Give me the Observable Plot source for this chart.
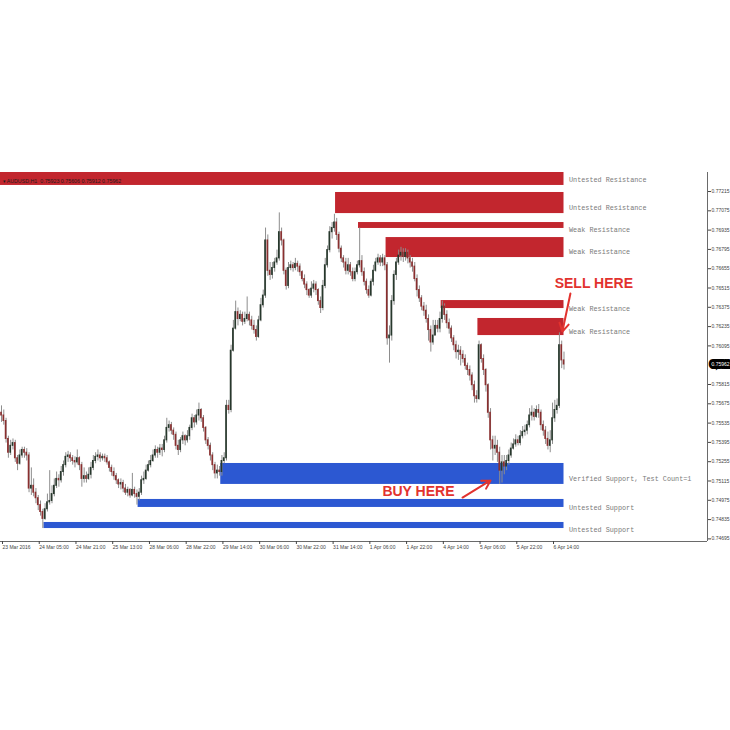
<!DOCTYPE html>
<html><head><meta charset="utf-8">
<script src="https://cdn.jsdelivr.net/npm/d3@7"></script>
<script src="https://cdn.jsdelivr.net/npm/@observablehq/plot@0.6"></script>
<style>html,body{margin:0;padding:0;background:#fff;} svg{display:block}</style>
</head><body><div id="chart"></div>
<script>
// AUDUSD H1 candles (open of each bar = close of the previous bar)
const firstOpen = 0.7561;
const closes = [
0.7559,0.7555,0.7542,0.7532,0.7537,0.7539,0.7528,0.7524,0.7530,0.7534,
0.7532,0.7530,0.7506,0.7508,0.7503,0.7499,0.7494,0.7489,0.7484,0.7491,
0.7496,0.7497,0.7502,0.7508,0.7513,0.7512,0.7518,0.7523,0.7529,0.7530,
0.7528,0.7526,0.7525,0.7528,0.7523,0.7513,0.7515,0.7513,0.7516,0.7521,
0.7526,0.7529,0.7530,0.7528,0.7529,0.7528,0.7525,0.7521,0.7518,0.7515,
0.7512,0.7509,0.7510,0.7506,0.7503,0.7505,0.7501,0.7505,0.7502,0.7500,
0.7503,0.7512,0.7513,0.7519,0.7523,0.7526,0.7530,0.7534,0.7532,0.7535,
0.7534,0.7541,0.7550,0.7552,0.7548,0.7545,0.7537,0.7534,0.7541,0.7544,
0.7541,0.7544,0.7550,0.7557,0.7554,0.7559,0.7563,0.7557,0.7550,0.7541,
0.7537,0.7530,0.7523,0.7517,0.7519,0.7518,0.7526,0.7528,0.7566,0.7563,
0.7606,0.7622,0.7634,0.7629,0.7632,0.7627,0.7629,0.7632,0.7628,0.7624,
0.7621,0.7616,0.7628,0.7639,0.7646,0.7686,0.7664,0.7661,0.7666,0.7670,
0.7673,0.7692,0.7686,0.7664,0.7653,0.7666,0.7668,0.7666,0.7669,0.7667,
0.7663,0.7658,0.7654,0.7650,0.7646,0.7651,0.7654,0.7650,0.7642,0.7637,
0.7653,0.7668,0.7679,0.7692,0.7695,0.7699,0.7690,0.7680,0.7673,0.7670,
0.7664,0.7668,0.7663,0.7658,0.7663,0.7668,0.7671,0.7663,0.7656,0.7650,
0.7646,0.7656,0.7664,0.7670,0.7673,0.7670,0.7673,0.7668,0.7615,0.7617,
0.7642,0.7661,0.7670,0.7675,0.7677,0.7674,0.7677,0.7673,0.7670,0.7667,
0.7658,0.7650,0.7644,0.7638,0.7635,0.7629,0.7621,0.7612,0.7617,0.7624,
0.7622,0.7629,0.7638,0.7632,0.7626,0.7622,0.7615,0.7610,0.7605,0.7606,
0.7603,0.7600,0.7595,0.7592,0.7588,0.7581,0.7573,0.7571,0.7610,0.7600,
0.7592,0.7581,0.7561,0.7541,0.7535,0.7537,0.7532,0.7519,0.7525,0.7522,
0.7526,0.7530,0.7535,0.7538,0.7541,0.7539,0.7544,0.7547,0.7548,0.7552,
0.7559,0.7561,0.7558,0.7563,0.7561,0.7552,0.7548,0.7542,0.7537,0.7541,
0.7557,0.7563,0.7566,0.7610,0.7599,0.7596];
const highs = [
0.7566,0.7563,0.7557,0.7544,0.7541,0.7542,0.7541,0.7530,0.7534,0.7536,
0.7536,0.7535,0.7532,0.7521,0.7513,0.7506,0.7501,0.7497,0.7491,0.7495,
0.7502,0.7519,0.7508,0.7513,0.7518,0.7516,0.7522,0.7526,0.7532,0.7533,
0.7532,0.7530,0.7529,0.7534,0.7529,0.7525,0.7521,0.7518,0.7521,0.7525,
0.7530,0.7532,0.7534,0.7532,0.7531,0.7531,0.7530,0.7526,0.7523,0.7521,
0.7517,0.7513,0.7513,0.7512,0.7509,0.7507,0.7506,0.7517,0.7507,0.7505,
0.7506,0.7515,0.7518,0.7523,0.7526,0.7530,0.7534,0.7537,0.7536,0.7538,
0.7538,0.7544,0.7557,0.7555,0.7554,0.7550,0.7547,0.7541,0.7543,0.7547,
0.7545,0.7548,0.7552,0.7560,0.7559,0.7563,0.7568,0.7564,0.7559,0.7551,
0.7543,0.7539,0.7532,0.7525,0.7523,0.7522,0.7530,0.7532,0.7570,0.7570,
0.7610,0.7628,0.7642,0.7637,0.7635,0.7634,0.7634,0.7645,0.7634,0.7631,
0.7628,0.7624,0.7631,0.7644,0.7650,0.7695,0.7690,0.7670,0.7670,0.7673,
0.7679,0.7706,0.7695,0.7687,0.7666,0.7670,0.7671,0.7670,0.7673,0.7671,
0.7669,0.7664,0.7661,0.7656,0.7651,0.7656,0.7657,0.7656,0.7651,0.7645,
0.7657,0.7673,0.7682,0.7696,0.7699,0.7705,0.7702,0.7692,0.7682,0.7675,
0.7673,0.7673,0.7670,0.7666,0.7666,0.7671,0.7695,0.7675,0.7666,0.7658,
0.7653,0.7658,0.7668,0.7673,0.7676,0.7675,0.7676,0.7675,0.7670,0.7624,
0.7646,0.7664,0.7673,0.7679,0.7681,0.7680,0.7680,0.7679,0.7675,0.7673,
0.7670,0.7661,0.7653,0.7646,0.7641,0.7639,0.7632,0.7624,0.7628,0.7628,
0.7628,0.7634,0.7642,0.7640,0.7635,0.7629,0.7624,0.7617,0.7613,0.7610,
0.7609,0.7606,0.7603,0.7597,0.7595,0.7590,0.7584,0.7577,0.7613,0.7611,
0.7603,0.7593,0.7582,0.7564,0.7544,0.7544,0.7541,0.7536,0.7530,0.7530,
0.7530,0.7534,0.7539,0.7542,0.7545,0.7544,0.7548,0.7551,0.7552,0.7555,
0.7564,0.7566,0.7564,0.7566,0.7567,0.7563,0.7555,0.7551,0.7547,0.7548,
0.7568,0.7570,0.7571,0.7619,0.7613,0.7605];
const lows = [
0.7554,0.7552,0.7539,0.7528,0.7530,0.7534,0.7525,0.7519,0.7523,0.7528,
0.7528,0.7526,0.7503,0.7501,0.7500,0.7495,0.7490,0.7486,0.7477,0.7483,
0.7489,0.7494,0.7495,0.7500,0.7506,0.7507,0.7510,0.7515,0.7521,0.7525,
0.7525,0.7523,0.7521,0.7523,0.7519,0.7507,0.7510,0.7510,0.7512,0.7513,
0.7519,0.7524,0.7526,0.7525,0.7526,0.7525,0.7523,0.7518,0.7515,0.7512,
0.7509,0.7506,0.7505,0.7503,0.7501,0.7500,0.7499,0.7500,0.7499,0.7494,
0.7497,0.7501,0.7509,0.7512,0.7518,0.7521,0.7525,0.7528,0.7528,0.7530,
0.7529,0.7532,0.7539,0.7547,0.7545,0.7541,0.7534,0.7530,0.7532,0.7538,
0.7537,0.7539,0.7541,0.7548,0.7550,0.7552,0.7555,0.7554,0.7547,0.7538,
0.7534,0.7526,0.7519,0.7513,0.7513,0.7515,0.7515,0.7524,0.7526,0.7560,
0.7561,0.7605,0.7621,0.7624,0.7627,0.7624,0.7625,0.7627,0.7624,0.7621,
0.7618,0.7613,0.7615,0.7627,0.7637,0.7644,0.7660,0.7657,0.7658,0.7663,
0.7668,0.7671,0.7682,0.7661,0.7650,0.7651,0.7664,0.7663,0.7664,0.7663,
0.7660,0.7656,0.7651,0.7646,0.7644,0.7644,0.7648,0.7646,0.7639,0.7633,
0.7635,0.7651,0.7666,0.7677,0.7687,0.7692,0.7686,0.7677,0.7670,0.7666,
0.7661,0.7661,0.7660,0.7656,0.7656,0.7661,0.7666,0.7660,0.7653,0.7647,
0.7644,0.7645,0.7653,0.7663,0.7668,0.7667,0.7667,0.7664,0.7610,0.7597,
0.7613,0.7639,0.7657,0.7668,0.7671,0.7670,0.7671,0.7669,0.7666,0.7663,
0.7656,0.7645,0.7641,0.7635,0.7631,0.7626,0.7613,0.7605,0.7610,0.7617,
0.7619,0.7619,0.7626,0.7628,0.7622,0.7618,0.7612,0.7606,0.7600,0.7599,
0.7595,0.7597,0.7592,0.7588,0.7584,0.7577,0.7568,0.7568,0.7570,0.7597,
0.7588,0.7576,0.7557,0.7534,0.7526,0.7530,0.7525,0.7509,0.7510,0.7516,
0.7519,0.7523,0.7528,0.7534,0.7536,0.7537,0.7537,0.7542,0.7544,0.7545,
0.7550,0.7555,0.7555,0.7557,0.7557,0.7548,0.7544,0.7538,0.7534,0.7532,
0.7538,0.7554,0.7560,0.7564,0.7593,0.7592];

// time axis labels (bar index of each label)
const timeLabelBars = [0,16,32,48,64,80,96,112,128,144,160,176,192,208,224,240];
const timeLabels = ["23 Mar 2016","24 Mar 05:00","24 Mar 21:00","25 Mar 13:00","28 Mar 06:00","28 Mar 22:00",
  "29 Mar 14:00","30 Mar 06:00","30 Mar 22:00","31 Mar 14:00","1 Apr 06:00","1 Apr 22:00",
  "4 Apr 14:00","5 Apr 06:00","5 Apr 22:00","6 Apr 14:00"];
// price axis labels
const priceTicks = [0.77215,0.77075,0.76935,0.76795,0.76655,0.76515,0.76375,0.76235,0.76095,
  0.75815,0.75675,0.75535,0.75395,0.75255,0.75115,0.74975,0.74835,0.74695];
const lastPrice = 0.75962;
const infoText = "\u25BE AUDUSD,H1  0.75923 0.75606 0.75912 0.75962";

// supply / demand zones
const zoneStart = [0, 146, 156, 168, 192, 208, 96, 60, 19];
const zoneLow  = [0.77259, 0.77055, 0.76947, 0.76736, 0.76366, 0.76170, 0.75090, 0.74923, 0.74770];
const zoneHigh = [0.77400, 0.77208, 0.76990, 0.76881, 0.76424, 0.76294, 0.75242, 0.74981, 0.74814];
const zoneKind = ["R","R","R","R","R","R","S","S","S"];
const zoneLabel = ["Untested Resistance","Untested Resistance","Weak Resistance","Weak Resistance",
  "Weak Resistance","Weak Resistance","Verified Support, Test Count=1","Untested Support","Untested Support"];

const N = closes.length;
const bars = closes.map((c, i) => {
  const o = i === 0 ? firstOpen : closes[i - 1];
  return {i, o, c, h: Math.max(highs[i], o, c), l: Math.min(lows[i], o, c)};
});
const zones = zoneStart.map((s, k) => ({s, lo: zoneLow[k], hi: zoneHigh[k], kind: zoneKind[k], label: zoneLabel[k]}));

const yTop = 0.77353, yBot = 0.74676;
const red = "#e2322e";
const sellNote = {x: 258, y: 0.76548, text: "SELL HERE"};
const buyNote = {x: 181.6, y: 0.75035, text: "BUY HERE"};
const sellArrow = {x1: 247.8, y1: 0.76475, x2: 244.3, y2: 0.76199};
const buyArrow = {x1: 200.8, y1: 0.74995, x2: 213, y2: 0.75119};
const fmt5 = d3.format(".5f");

const chart = Plot.plot({
  width: 730, height: 730,
  marginTop: 172, marginBottom: 189, marginLeft: 0, marginRight: 23,
  style: {background: "#fff", overflow: "visible", fontFamily: "Liberation Sans, Arial, sans-serif"},
  x: {type: "linear", domain: [-0.4355, 307.5], axis: null},
  y: {domain: [yBot, yTop], axis: null},
  marks: [
    Plot.rect(zones, {x1: d => d.s - 0.5, x2: N - 1, y1: "lo", y2: "hi",
      fill: d => d.kind === "R" ? "#c2262e" : "#2c58d2", clip: true}),
    Plot.ruleX(bars, {x: "i", y1: "l", y2: "h", stroke: "#8d8d8d", strokeWidth: 1}),
    Plot.rect(bars, {x1: d => d.i - 0.36, x2: d => d.i + 0.36,
      y1: d => Math.min(d.o, d.c), y2: d => Math.max(d.o, d.c),
      fill: d => d.c >= d.o ? "#27382c" : "#8a2f2f", insetTop: -0.5, insetBottom: -0.5}),
    Plot.text(zones, {x: N - 1, y: d => (d.lo + d.hi) / 2, dx: 5, dy: 4.5, text: "label",
      textAnchor: "start", fontFamily: "Liberation Mono, Courier New, monospace", fontSize: 6.8, fill: "#7a7a7a"}),
    Plot.text([infoText], {frameAnchor: "top-left", dx: 2, dy: 7, textAnchor: "start", fontSize: 5.3, fill: "#1d1d1d"}),
    Plot.ruleX([307.5], {stroke: "#6a6a6a", strokeWidth: 1}),
    Plot.ruleY([yBot], {stroke: "#6a6a6a", strokeWidth: 1}),
    Plot.axisY(priceTicks, {anchor: "right", tickSize: 3, tickPadding: 1, tickFormat: fmt5, fontSize: 5, color: "#444"}),
    Plot.axisX(timeLabelBars, {anchor: "bottom", tickSize: 3, tickPadding: 1,
      tickFormat: d => timeLabels[timeLabelBars.indexOf(d)], textAnchor: "start", dx: 1, fontSize: 5, color: "#444"}),
    Plot.text([lastPrice], {y: d => d, frameAnchor: "right", dx: 4, textAnchor: "start", text: d => fmt5(d),
      fill: "white", stroke: "black", strokeWidth: 6, strokeLinejoin: "miter", fontSize: 5}),
    Plot.arrow([sellArrow], {x1: "x1", y1: "y1", x2: "x2", y2: "y2", stroke: red, strokeWidth: 2, headLength: 7}),
    Plot.arrow([buyArrow], {x1: "x1", y1: "y1", x2: "x2", y2: "y2", stroke: red, strokeWidth: 2, headLength: 7}),
    Plot.text([sellNote, buyNote], {x: "x", y: "y", text: "text", fill: red, fontSize: 14, fontWeight: "bold",
      fontFamily: "Liberation Sans, Arial, sans-serif"})
  ]
});
document.getElementById("chart").appendChild(chart);
</script>
</body></html>
